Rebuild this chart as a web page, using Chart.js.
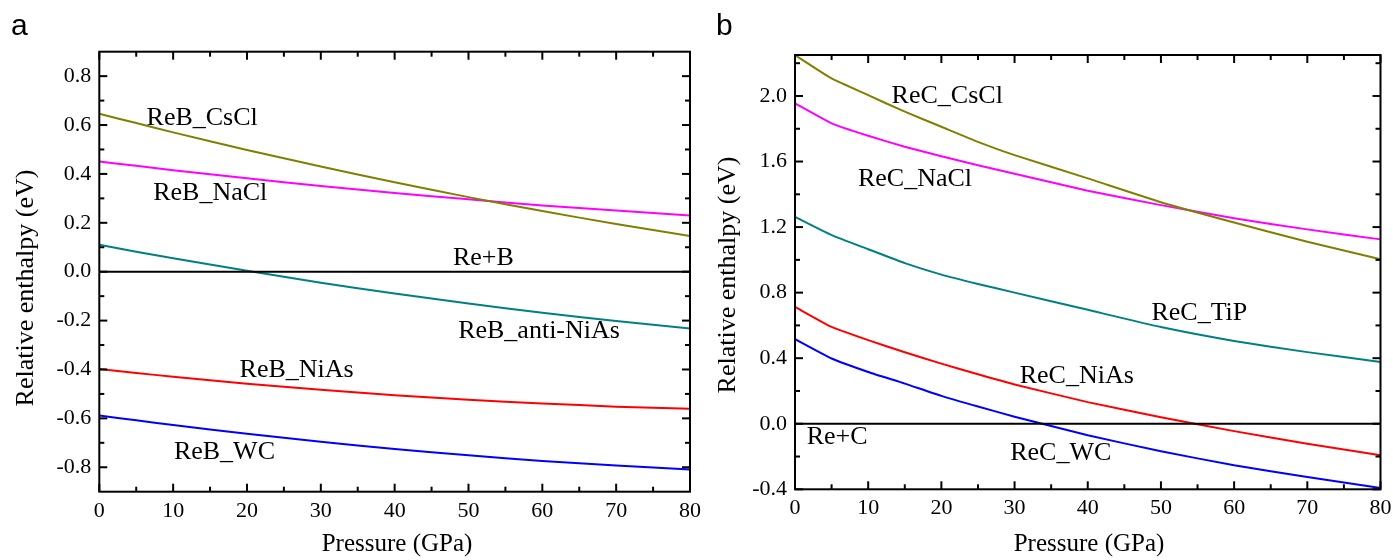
<!DOCTYPE html>
<html><head><meta charset="utf-8">
<script src="https://cdn.jsdelivr.net/npm/chart.js@4.4.1/dist/chart.umd.min.js"></script>
<style>
html,body{margin:0;padding:0;background:#fff;}
body{width:1393px;height:560px;position:relative;overflow:hidden;}
canvas{position:absolute;top:0;}
#ca{left:0;} #cb{left:702px;}
</style></head><body>
<canvas id="ca" width="708" height="560"></canvas>
<canvas id="cb" width="697" height="560"></canvas>
<script>
// ---- Panel a data (ReB) ----
const pressureA = [0, 5, 10, 20, 30, 40, 50, 60, 70, 80];
const reB_CsCl  = [0.646, 0.608, 0.570, 0.498, 0.430, 0.366, 0.305, 0.248, 0.195, 0.146];
const reB_NaCl  = [0.451, 0.433, 0.415, 0.382, 0.351, 0.322, 0.296, 0.271, 0.250, 0.230];
const reB_antiNiAs = [0.110, 0.082, 0.055, 0.004, -0.045, -0.089, -0.130, -0.168, -0.202, -0.232];
const reB_NiAs  = [-0.398, -0.414, -0.430, -0.458, -0.483, -0.505, -0.524, -0.539, -0.552, -0.561];
const reB_WC    = [-0.588, -0.608, -0.627, -0.663, -0.696, -0.725, -0.751, -0.774, -0.793, -0.809];
const reB_ref   = [0, 0, 0, 0, 0, 0, 0, 0, 0, 0];

// ---- Panel b data (ReC) ----
const pressureB = [0, 5, 10, 15, 20, 25, 30, 40, 50, 60, 70, 80];
const reC_CsCl  = [2.250, 2.107, 2.005, 1.904, 1.812, 1.720, 1.639, 1.497, 1.352, 1.228, 1.110, 1.004];
const reC_NaCl  = [1.955, 1.833, 1.757, 1.690, 1.632, 1.577, 1.525, 1.422, 1.334, 1.254, 1.186, 1.125];
const reC_TiP   = [1.262, 1.151, 1.065, 0.980, 0.910, 0.853, 0.800, 0.695, 0.590, 0.505, 0.437, 0.377];
const reC_NiAs  = [0.713, 0.591, 0.510, 0.436, 0.367, 0.302, 0.240, 0.132, 0.040, -0.045, -0.122, -0.192];
const reC_WC    = [0.516, 0.398, 0.316, 0.245, 0.170, 0.105, 0.043, -0.070, -0.168, -0.253, -0.325, -0.392];
const reC_ref   = [0, 0, 0, 0, 0, 0, 0, 0, 0, 0, 0, 0];

// ---- Tick labels ----
const xTicks  = [0, 10, 20, 30, 40, 50, 60, 70, 80];
const yTicksA = [-0.8, -0.6, -0.4, -0.2, 0.0, 0.2, 0.4, 0.6, 0.8];
const yTicksB = [-0.4, 0.0, 0.4, 0.8, 1.2, 1.6, 2.0];

// ---- Text annotations (data coordinates, left/baseline anchor) ----
const labelsA = [
  {text:'ReB_CsCl', p:6.4, v:0.602},
  {text:'ReB_NaCl', p:7.3, v:0.294},
  {text:'Re+B', p:47.9, v:0.028},
  {text:'ReB_anti-NiAs', p:48.6, v:-0.273},
  {text:'ReB_NiAs', p:19.0, v:-0.431},
  {text:'ReB_WC', p:10.1, v:-0.766}
];
const labelsB = [
  {text:'ReC_CsCl', p:13.2, v:1.955},
  {text:'ReC_NaCl', p:8.6, v:1.452},
  {text:'ReC_TiP', p:48.7, v:0.632},
  {text:'ReC_NiAs', p:30.7, v:0.249},
  {text:'Re+C', p:1.6, v:-0.121},
  {text:'ReC_WC', p:29.4, v:-0.223}
];

const C = {olive:'#808000', magenta:'#FF00FF', teal:'#008080', red:'#FF0000', blue:'#0000FF', black:'#000000'};

function minorOf(major, lo, hi){
  const out=[]; const step=major[1]-major[0];
  const first=major[0]-step/2;
  for(let v=first; v<=hi+1e-9; v+=step){ if(v>lo+1e-9 && v<hi-1e-9) out.push(+v.toFixed(4)); }
  return out;
}

const panelCfg = {};

const framePlugin = {
  id:'framePlugin',
  afterDraw(chart){
    const cfg = panelCfg[chart.canvas.id];
    const {ctx, chartArea:a} = chart;
    const x = chart.scales.x, y = chart.scales.y;
    ctx.save();
    ctx.strokeStyle='#000'; ctx.lineWidth=2; ctx.lineCap='butt';
    ctx.strokeRect(a.left, a.top, a.right-a.left, a.bottom-a.top);
    const seg=(x0,y0,x1,y1)=>{ctx.beginPath();ctx.moveTo(x0,y0);ctx.lineTo(x1,y1);ctx.stroke();};
    const MAJ=8, MIN=5;
    xTicks.forEach(v=>{const px=x.getPixelForValue(v); seg(px,a.bottom,px,a.bottom-MAJ); seg(px,a.top,px,a.top+MAJ);});
    minorOf(xTicks,0,80).forEach(v=>{const px=x.getPixelForValue(v); seg(px,a.bottom,px,a.bottom-MIN); seg(px,a.top,px,a.top+MIN);});
    cfg.yTicks.forEach(v=>{const py=y.getPixelForValue(v); seg(a.left,py,a.left+MAJ,py); seg(a.right,py,a.right-MAJ,py);});
    minorOf(cfg.yTicks,cfg.yMin,cfg.yMax).forEach(v=>{const py=y.getPixelForValue(v); seg(a.left,py,a.left+MIN,py); seg(a.right,py,a.right-MIN,py);});
    // annotations
    ctx.fillStyle='#000';
    ctx.font='26px "Liberation Serif", "Times New Roman", serif';
    ctx.textAlign='left'; ctx.textBaseline='alphabetic';
    cfg.labels.forEach(l=>ctx.fillText(l.text, x.getPixelForValue(l.p), y.getPixelForValue(l.v)));
    // axis titles
    ctx.textAlign='center';
    ctx.font='25px "Liberation Serif", "Times New Roman", serif';
    ctx.fillText('Pressure (GPa)', cfg.xTitleX, 551);
    ctx.save();
    ctx.translate(cfg.yTitleBase, cfg.yTitleY);
    ctx.rotate(-Math.PI/2);
    ctx.font='26px "Liberation Serif", "Times New Roman", serif';
    ctx.fillText('Relative enthalpy (eV)', 0, 0);
    ctx.restore();
    // panel letter
    ctx.textAlign='left';
    ctx.font='30px "Liberation Sans", Arial, sans-serif';
    ctx.fillText(cfg.letter, cfg.letterX, 35);
    ctx.restore();
  }
};

function makeChart(id, pressures, series, cfg){
  panelCfg[id]=cfg;
  const tickFont={family:'"Liberation Serif", "Times New Roman", serif', size:22};
  new Chart(document.getElementById(id), {
    type:'line',
    data:{datasets: series.map(s=>({
      label:s.name,
      data: pressures.map((p,i)=>({x:p, y:s.values[i]})),
      borderColor:s.color, backgroundColor:s.color,
      borderWidth:2, pointRadius:0, tension:cfg.tension, fill:false
    }))},
    options:{
      responsive:false, animation:false, devicePixelRatio:1,
      layout:{padding:{top:cfg.top, right:cfg.right, left:0, bottom:0}},
      plugins:{legend:{display:false}, tooltip:{enabled:false}},
      scales:{
        x:{type:'linear', min:0, max:80,
           afterBuildTicks:s=>{s.ticks=xTicks.map(v=>({value:v}));},
           afterFit:s=>{s.height=cfg.xh;},
           grid:{display:false, drawTicks:false, tickLength:0}, border:{display:false},
           ticks:{padding:6, font:tickFont, color:'#000', maxRotation:0, autoSkip:false, callback:v=>String(v)}},
        y:{type:'linear', min:cfg.yMin, max:cfg.yMax,
           afterBuildTicks:s=>{s.ticks=cfg.yTicks.map(v=>({value:v}));},
           afterFit:s=>{s.width=cfg.yw;},
           grid:{display:false, drawTicks:false, tickLength:0}, border:{display:false},
           ticks:{padding:8, font:tickFont, color:'#000', autoSkip:false, callback:v=>Number(v).toFixed(1)}}
      }
    },
    plugins:[framePlugin]
  });
}

makeChart('ca', pressureA, [
  {name:'Re+B', values:reB_ref, color:C.black},
  {name:'ReB_CsCl', values:reB_CsCl, color:C.olive},
  {name:'ReB_NaCl', values:reB_NaCl, color:C.magenta},
  {name:'ReB_anti-NiAs', values:reB_antiNiAs, color:C.teal},
  {name:'ReB_NiAs', values:reB_NiAs, color:C.red},
  {name:'ReB_WC', values:reB_WC, color:C.blue}
], {top:51.7, right:18, xh:68.3, yw:99.3, yMin:-0.9, yMax:0.9, yTicks:yTicksA, labels:labelsA,
    tension:0.2, xTitleX:397, yTitleBase:33.3, yTitleY:288, letter:'a', letterX:11});

makeChart('cb', pressureB, [
  {name:'Re+C', values:reC_ref, color:C.black},
  {name:'ReC_CsCl', values:reC_CsCl, color:C.olive},
  {name:'ReC_NaCl', values:reC_NaCl, color:C.magenta},
  {name:'ReC_TiP', values:reC_TiP, color:C.teal},
  {name:'ReC_NiAs', values:reC_NiAs, color:C.red},
  {name:'ReC_WC', values:reC_WC, color:C.blue}
], {top:55, right:18.5, xh:70.7, yw:93, yMin:-0.4, yMax:2.25, yTicks:yTicksB, labels:labelsB,
    tension:0.15, xTitleX:387, yTitleBase:33, yTitleY:275, letter:'b', letterX:14});
</script>
</body></html>
